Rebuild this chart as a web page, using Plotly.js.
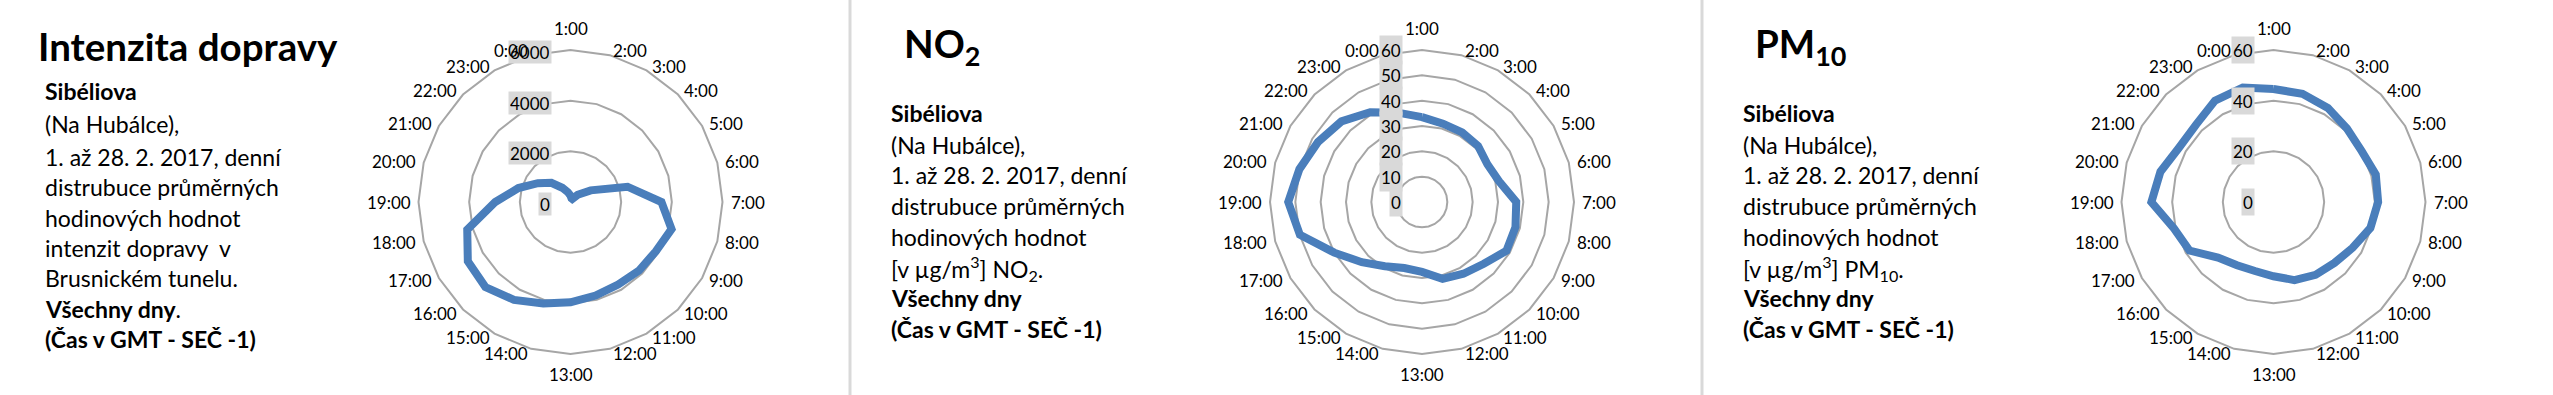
<!DOCTYPE html>
<html>
<head>
<meta charset="utf-8">
<script src="https://cdn.plot.ly/plotly-3.0.1.min.js"></script>
<style>
html, body { margin: 0; padding: 0; background: #ffffff; }
#chart { width: 2553px; height: 395px; }
</style>
</head>
<body>
<div id="chart"></div>
<script>
// ---------- data ----------
const hours = ['1:00','2:00','3:00','4:00','5:00','6:00','7:00','8:00','9:00','10:00','11:00','12:00',
               '13:00','14:00','15:00','16:00','17:00','18:00','19:00','20:00','21:00','22:00','23:00','0:00'];

const traffic = [250, 150, 140, 400, 920, 2330, 3590, 4130, 3890, 3825, 3760, 3825,
                 3960, 4150, 4460, 4750, 4680, 4220, 2970, 2130, 1490, 1070, 650, 400];

const no2 = [33.5, 32, 31.7, 31.3, 29.8, 31.5, 37.2, 38.2, 38.5, 34.5, 32.7, 31.4,
             27.6, 27, 29.3, 33.6, 40, 49.9, 52.8, 50.1, 47.4, 45, 40.9, 36.5];

const pm10 = [44.6, 44.2, 42.9, 41, 40.2, 41.8, 41.3, 39.6, 36.1, 34, 33.2, 31.9,
              29.3, 28.2, 28.8, 31, 38.3, 40.6, 48.2, 46.2, 43, 43.2, 46.2, 46.8];

const trafficTicks = [0, 2000, 4000, 6000];
const no2Ticks = [0, 10, 20, 30, 40, 50, 60];
const pm10Ticks = [0, 20, 40, 60];

const titles = ['Intenzita dopravy', 'NO<sub>2</sub>', 'PM<sub>10</sub>'];

const desc1 = ['<b>Sibéliova</b>', '(Na Hubálce),', '1. až 28. 2. 2017, denní', 'distrubuce průměrných',
               'hodinových hodnot', 'intenzit dopravy\u00a0 v', 'Brusnickém tunelu.', '<b>Všechny dny</b>.',
               '<b>(Čas v GMT - SEČ -1)</b>'];
const desc2 = ['<b>Sibéliova</b>', '(Na Hubálce),', '1. až 28. 2. 2017, denní', 'distrubuce průměrných',
               'hodinových hodnot', '[v µg/m<sup>3</sup>] NO<sub>2</sub>.', '<b>Všechny dny</b>',
               '<b>(Čas v GMT - SEČ -1)</b>'];
const desc3 = ['<b>Sibéliova</b>', '(Na Hubálce),', '1. až 28. 2. 2017, denní', 'distrubuce průměrných',
               'hodinových hodnot', '[v µg/m<sup>3</sup>] PM<sub>10</sub>.', '<b>Všechny dny</b>',
               '<b>(Čas v GMT - SEČ -1)</b>'];

// ---------- layout geometry ----------
const W = 2553, H = 395;
const FONT = 'Lato, "Open Sans", sans-serif';
const GRID = '#a6a6a6';
const panels = [
  {values: traffic, ticks: trafficTicks, max: 6000, cx: 570.5, cy: 202, R: 152, boxH: 20, boxShift: -2,
   title: titles[0], titleX: 36, desc: desc1, descX: 43, descBase: [100, 133, 166, 196, 227, 257, 287, 318, 348]},
  {values: no2, ticks: no2Ticks, max: 60, cx: 1422, cy: 202, R: 152, boxH: 26, boxShift: 0,
   title: titles[1], titleX: 902, desc: desc2, descX: 889, descBase: [122, 154, 184, 215, 246, 277, 307, 338]},
  {values: pm10, ticks: pm10Ticks, max: 60, cx: 2273.5, cy: 202, R: 152, boxH: 24, boxShift: 0,
   title: titles[2], titleX: 1753, desc: desc3, descX: 1741, descBase: [122, 154, 184, 215, 246, 277, 307, 338]}
];
const titleBase = 61;
const titleSize = 38.5, bodySize = 23, labelSize = 17;

const data = [];
const layout = {
  width: W, height: H,
  margin: {l: 0, r: 0, t: 0, b: 0, pad: 0},
  paper_bgcolor: '#ffffff',
  plot_bgcolor: 'rgba(0,0,0,0)',
  showlegend: false,
  font: {family: FONT, color: '#000000'},
  annotations: [],
  shapes: [
    {type: 'line', xref: 'paper', yref: 'paper', x0: 850 / W, x1: 850 / W, y0: 0, y1: 1,
     line: {color: '#d9d9d9', width: 3}},
    {type: 'line', xref: 'paper', yref: 'paper', x0: 1702 / W, x1: 1702 / W, y0: 0, y1: 1,
     line: {color: '#d9d9d9', width: 3}}
  ]
};

function textLine(xPx, basePx, text, size) {
  const yc = basePx - 0.387 * size;
  return {xref: 'paper', yref: 'paper', x: xPx / W, y: 1 - yc / H, xanchor: 'left', yanchor: 'middle',
          text: text, showarrow: false, align: 'left', font: {family: FONT, size: size, color: '#000000'}};
}

panels.forEach((p, i) => {
  const n = i === 0 ? '' : String(i + 1);
  const dx = [(p.cx - p.R) / W, (p.cx + p.R) / W];
  const dy = [(H - p.cy - p.R) / H, (H - p.cy + p.R) / H];

  data.push({
    type: 'scatterpolar',
    subplot: 'polar' + n,
    r: p.values.concat([p.values[0]]),
    theta: hours.concat([hours[0]]),
    mode: 'lines',
    line: {color: '#4a7ebb', width: 8},
    hoverinfo: 'skip'
  });
  // invisible cartesian overlay, same box and scale as the polar area, used to place labels
  data.push({type: 'scatter', x: [], y: [], xaxis: 'x' + n, yaxis: 'y' + n, hoverinfo: 'skip'});

  layout['polar' + n] = {
    domain: {x: dx, y: dy},
    gridshape: 'linear',
    bgcolor: 'rgba(0,0,0,0)',
    radialaxis: {range: [0, p.max], tickvals: p.ticks, showticklabels: false, ticks: '',
                 showline: false, showgrid: true, gridcolor: GRID, gridwidth: 2, angle: 90},
    angularaxis: {type: 'category', categoryarray: hours, direction: 'clockwise', rotation: 90,
                  showgrid: false, showline: true, linecolor: GRID, linewidth: 2,
                  ticks: '', showticklabels: false}
  };
  layout['xaxis' + n] = {domain: dx, range: [-p.max, p.max], visible: false, fixedrange: true,
                         anchor: 'y' + n};
  layout['yaxis' + n] = {domain: dy, range: [-p.max, p.max], visible: false, fixedrange: true,
                         anchor: 'x' + n};

  // radial value labels with grey boxes (drawn first, hour labels may overlap them)
  p.ticks.forEach(t => {
    layout.annotations.push({
      xref: 'x' + n, yref: 'y' + n, x: 0, y: t, text: String(t),
      xanchor: 'right', yanchor: 'middle', xshift: -19, yshift: p.boxShift,
      showarrow: false, bgcolor: '#d9d9d9', height: p.boxH, borderpad: 1,
      font: {family: FONT, size: labelSize, color: '#000000'}
    });
  });

  // hour labels around the rim (category k sits at k * 360/24 degrees, clockwise from top)
  hours.forEach((h, k) => {
    const ang = k * 2 * Math.PI / hours.length;
    const s = Math.sin(ang), c = Math.cos(ang);
    const a = {xref: 'x' + n, yref: 'y' + n, x: p.max * s, y: p.max * c, text: h, showarrow: false,
               font: {family: FONT, size: labelSize, color: '#000000'}};
    if (Math.abs(s) < 1e-6) {
      a.xanchor = 'center';
      if (c > 0) { a.yanchor = 'bottom'; a.yshift = 9; }
      else { a.yanchor = 'top'; a.yshift = -8; }
    } else {
      a.xanchor = s > 0 ? 'left' : 'right';
      a.yanchor = 'middle';
      a.xshift = 6 * s;
      a.yshift = 5 * c;
    }
    layout.annotations.push(a);
  });

  layout.annotations.push(textLine(p.titleX, titleBase, '<b>' + p.title + '</b>', titleSize));
  p.desc.forEach((line, k) => {
    layout.annotations.push(textLine(p.descX, p.descBase[k], line, bodySize));
  });
});

Plotly.newPlot('chart', data, layout, {staticPlot: true, displayModeBar: false});
</script>
</body>
</html>
